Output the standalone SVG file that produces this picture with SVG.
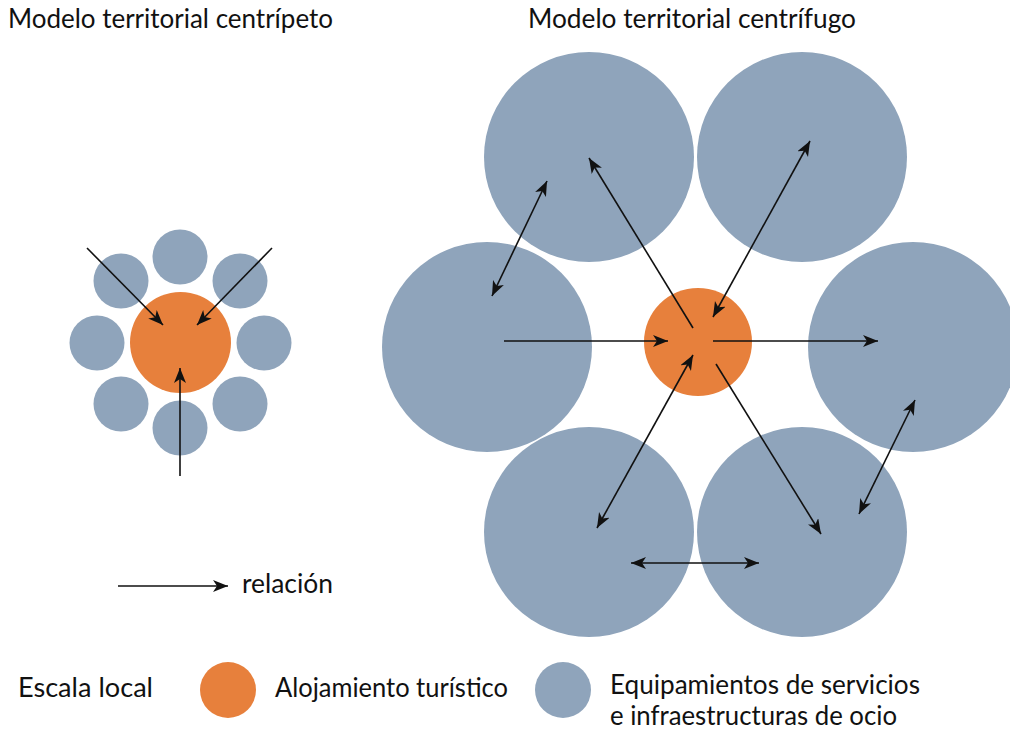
<svg xmlns="http://www.w3.org/2000/svg" width="1010" height="731" viewBox="0 0 1010 731">
<style>
.t{font-family:Lato,"Noto Sans",sans-serif;font-size:26px;fill:#111}
.o{fill:#E7803C}
.b{fill:#8FA4BB}
.c line{stroke:#111;stroke-width:1.6}
.a{marker-end:url(#ah)}
.d{marker-start:url(#ahs);marker-end:url(#ah)}
</style>
<defs>
<marker id="ah" markerUnits="userSpaceOnUse" markerWidth="20" markerHeight="16" refX="15" refY="6" orient="auto">
<path d="M15,6 L0,0 L4,6 L0,12 Z" fill="#111"/>
</marker>
<marker id="ahs" markerUnits="userSpaceOnUse" markerWidth="20" markerHeight="16" refX="15" refY="6" orient="auto-start-reverse">
<path d="M15,6 L0,0 L4,6 L0,12 Z" fill="#111"/>
</marker>
</defs>
<g id="titles">
<text class="t" x="8" y="28" textLength="325" lengthAdjust="spacingAndGlyphs">Modelo territorial centrípeto</text>
<text class="t" x="528" y="28" textLength="328" lengthAdjust="spacingAndGlyphs">Modelo territorial centrífugo</text>
</g>
<g id="left-cluster">
<circle class="b" cx="180" cy="257" r="27.5"/>
<circle class="b" cx="240" cy="281" r="27.5"/>
<circle class="b" cx="264" cy="343" r="27.5"/>
<circle class="b" cx="240" cy="404" r="27.5"/>
<circle class="b" cx="180" cy="428" r="27.5"/>
<circle class="b" cx="121" cy="404" r="27.5"/>
<circle class="b" cx="97" cy="343" r="27.5"/>
<circle class="b" cx="121" cy="281" r="27.5"/>
<circle id="left-center" class="o" cx="180.5" cy="342.5" r="50.5"/>
</g>
<g id="right-cluster">
<circle id="n-tl" class="b" cx="589" cy="157" r="105"/>
<circle id="n-tr" class="b" cx="802" cy="157" r="105"/>
<circle id="n-l" class="b" cx="487" cy="347" r="105"/>
<circle id="n-r" class="b" cx="913" cy="347" r="105"/>
<circle id="n-bl" class="b" cx="589" cy="532" r="105"/>
<circle id="n-br" class="b" cx="802" cy="532" r="105"/>
<circle id="n-c" class="o" cx="698" cy="342" r="54"/>
</g>
<g id="connectors" class="c">
<line class="a" x1="87" y1="248" x2="163" y2="325"/>
<line class="a" x1="272" y1="248" x2="197" y2="325"/>
<line class="a" x1="180" y1="476" x2="180" y2="368"/>
<line class="a" x1="504" y1="341" x2="668" y2="341"/>
<line class="a" x1="713" y1="341" x2="878" y2="341"/>
<line class="a" x1="693" y1="328" x2="589" y2="158"/>
<line class="d" x1="713" y1="317" x2="810" y2="141"/>
<line class="d" x1="492" y1="296" x2="547" y2="181"/>
<line class="d" x1="693" y1="355" x2="597" y2="528"/>
<line class="a" x1="716" y1="364" x2="821" y2="534"/>
<line class="d" x1="915" y1="400" x2="859" y2="514"/>
<line class="d" x1="631" y1="563" x2="759" y2="563"/>
<line class="a" x1="118" y1="586" x2="228" y2="586"/>
</g>
<g id="legend">
<text class="t" x="242" y="593" textLength="91" lengthAdjust="spacingAndGlyphs">relación</text>
<text class="t" x="18" y="697" textLength="135" lengthAdjust="spacingAndGlyphs">Escala local</text>
<circle class="o" cx="228" cy="690" r="28"/>
<text class="t" x="275" y="697" textLength="233" lengthAdjust="spacingAndGlyphs">Alojamiento turístico</text>
<circle class="b" cx="563" cy="690" r="28"/>
<text class="t" x="610" y="694" textLength="310" lengthAdjust="spacingAndGlyphs">Equipamientos de servicios</text>
<text class="t" x="610" y="725" textLength="287" lengthAdjust="spacingAndGlyphs">e infraestructuras de ocio</text>
</g>
</svg>
